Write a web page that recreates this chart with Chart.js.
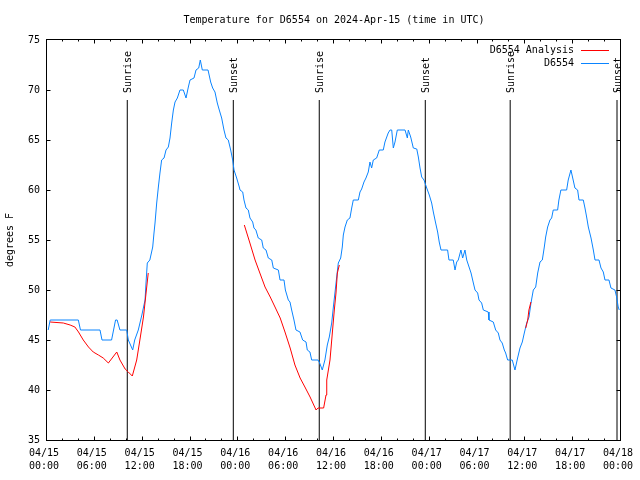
<!DOCTYPE html>
<html><head><meta charset="utf-8">
<script src="https://cdn.jsdelivr.net/npm/chart.js@4.4.1/dist/chart.umd.min.js"></script>
<style>html,body{margin:0;padding:0;background:#fff}#wrap{width:640px;height:480px}</style>
</head><body><div id="wrap"><canvas id="c" width="640" height="480"></canvas></div>
<script>
const titleText = 'Temperature for D6554 on 2024-Apr-15 (time in UTC)';
const yAxisTitle = 'degrees F';
const xTickDates = ['04/15','04/15','04/15','04/15','04/16','04/16','04/16','04/16','04/17','04/17','04/17','04/17','04/18'];
const xTickTimes = ['00:00','06:00','12:00','18:00','00:00','06:00','12:00','18:00','00:00','06:00','12:00','18:00','00:00'];
const seriesNames = ['D6554 Analysis', 'D6554'];

// hours since 04/15 00:00 UTC
const obsHours = [0.15,0.4,3.93,4.2,6.65,6.9,8.1,8.6,8.8,9.15,10.0,10.2,10.75,11.0,11.45,11.9,12.3,12.42,12.58,12.9,13.26,13.42,13.55,13.76,13.97,14.17,14.38,14.68,14.93,15.22,15.43,15.64,15.85,16.06,16.35,16.68,17.1,17.44,17.73,17.94,18.44,18.69,19.03,19.23,19.48,20.2,20.53,20.78,21.07,21.36,21.61,21.91,22.2,22.45,22.74,23.04,23.29,23.46,23.79,24.12,
 24.21,24.55,24.71,24.96,25.25,25.46,25.8,25.96,26.2,26.5,26.93,27.13,27.47,27.76,28.19,28.39,29.02,29.23,29.73,29.9,30.27,30.48,30.69,30.98,31.23,31.73,32.07,32.49,32.65,32.98,33.2,34.0,34.2,34.53,34.86,35.16,35.41,35.71,35.92,36.13,36.34,36.54,36.84,37.04,37.17,37.38,37.67,38.0,38.22,38.42,39.05,39.26,39.47,39.76,40.01,40.3,40.51,40.72,40.93,41.35,41.68,42.18,42.39,42.8,43.03,43.24,43.44,43.65,43.94,44.91,45.2,45.32,45.62,45.95,46.38,46.58,46.79,47.0,47.29,47.63,47.95,
 48.25,48.46,48.75,49.0,49.2,49.42,50.25,50.42,50.96,51.18,51.39,51.59,51.92,52.14,52.43,52.65,52.94,53.19,53.48,53.69,54.02,54.19,54.52,54.73,55.35,55.44,55.98,56.28,56.61,56.82,57.1,57.36,57.53,57.78,58.36,58.7,59.03,59.33,59.62,59.87,60.17,60.46,60.71,61.0,61.3,61.55,61.84,62.13,62.38,62.55,62.8,63.09,63.3,63.5,64.05,64.21,64.46,65.18,65.38,65.72,66.0,66.22,66.56,66.73,67.27,67.48,67.69,67.9,68.24,68.53,68.74,69.24,69.49,69.78,69.99,70.49,70.74,71.24,71.45,71.65,71.78];
const obsTemps = [46,47,47,46,46,45,45,47,47,46,46,45,44,45,46,47.5,49,50.7,52.7,53,54.3,55.7,56.7,58.7,60.3,61.7,63,63.2,64,64.3,65.2,66.7,68,68.8,69.2,70,70,69.2,70.3,71,71.2,72,72.2,73,72,72,70.8,70.2,69.8,68.7,68,67.2,66,65.2,65,64,63,62,61.2,60.3,
 60,59.8,59,58.2,58,57.2,56.8,56.2,56,55.2,55,54.2,54,53.2,53,52.2,52,51,51,50,49,48.8,48,47,46,45.8,45,44.8,44,43.8,43,43,42.7,42,43,44.5,45.3,46.7,48.3,49.8,51.3,52.7,53.2,54.3,55.5,56.3,57,57.2,58.2,59,59,59.8,60.1,60.8,61.2,61.8,62.8,62.2,63,63.2,64,64,64.8,65.7,66,66,64.2,64.8,66,66,65.2,66,65.3,64.2,64.1,63.3,62.2,61.3,61,60.2,59.5,
 58.7,57.8,56.7,55.8,54.8,54,54,53,53,52,52.8,53,54,53.2,54,53,52.3,51.7,50.7,50,49.7,49,48.7,48,47.8,47,46.8,46,45.7,45,44.7,44,43.7,43,43,42,43.2,44.2,44.8,45.7,46.7,47.3,48.7,50,50.3,51.7,52.8,53,54.3,55.3,56.3,57,57.2,58,58,59,60,60,61,62,61,60.2,60,59,59,58.2,57.3,56.3,55.2,54,53,53,52.2,51.8,51,51,50.2,50,49.3,48.3,48];

const anaHours = [0.4,2.05,2.9,3.5,3.95,4.55,5.2,5.8,6.45,7.05,7.7,8.75,9.15,9.8,10.2,10.7,11.25,11.65,12.1,12.7,12.71,
 24.75,25.45,26.1,26.7,27.35,28.0,28.6,29.25,29.85,30.5,31.1,31.75,32.35,33.0,33.75,34.0,34.7,35.0,35.09,35.5,35.79,36.04,36.25,36.42,36.67,36.68,
 60.05,60.3,60.45,60.7];
const anaTemps = [46.8,46.7,46.5,46.3,45.8,45,44.3,43.8,43.5,43.2,42.7,43.8,43,42.1,41.8,41.4,43,45,47.3,51.7,null,
 56.5,54.7,53,51.7,50.3,49.3,48.3,47.2,45.8,44.2,42.5,41.2,40.3,39.3,38,38.2,38.2,39.5,41,43,45.7,48,49.7,51.7,52.5,null,
 46.2,47,48,48.8];

const sunriseHours = [10.07, 34.15, 58.1];
const sunsetHours = [23.37, 47.45, 71.5];
const sunLineBottom = 35;
const sunLineTop = 69;

const FONT = "'DejaVu Sans Mono', 'Liberation Mono', monospace";
Chart.defaults.font.family = FONT;
Chart.defaults.font.size = 10;
Chart.defaults.color = '#000';

const toPts = (hs, vs) => hs.map((h, i) => ({x: h, y: vs[i]}));
const sunPts = [];
sunriseHours.concat(sunsetHours).forEach(h => {
  sunPts.push({x: h, y: sunLineBottom}, {x: h, y: sunLineTop}, {x: h, y: null});
});

const framePlugin = {
  id: 'frame',
  afterDatasetsDraw(chart) {
    const {ctx, chartArea, scales: {x, y}} = chart;
    const L = Math.round(chartArea.left) - 0.5, R = Math.round(chartArea.right) - 0.5;
    const T = Math.round(chartArea.top) - 0.5, B = Math.round(chartArea.bottom) + 0.5;
    ctx.save();
    ctx.strokeStyle = '#000';
    ctx.lineWidth = 1;
    ctx.strokeRect(L, T, R - L, B - T);
    ctx.beginPath();
    for (let h = x.min; h <= x.max; h += 2) {
      const px = Math.round(x.getPixelForValue(h)) - 0.5;
      const len = (h % 6 === 0) ? 4 : 2;
      ctx.moveTo(px, B); ctx.lineTo(px, B - len);
      ctx.moveTo(px, T); ctx.lineTo(px, T + len);
    }
    for (let v = y.min + 5; v < y.max; v += 5) {
      const py = Math.round(y.getPixelForValue(v)) + 0.5;
      ctx.moveTo(L, py); ctx.lineTo(L + 4, py);
      ctx.moveTo(R, py); ctx.lineTo(R - 4, py);
    }
    ctx.stroke();
    // sunrise / sunset labels
    ctx.fillStyle = '#000';
    ctx.font = '10px ' + FONT;
    ctx.textAlign = 'left';
    ctx.textBaseline = 'middle';
    const yTop = y.getPixelForValue(sunLineTop);
    const lab = (hrs, txt) => hrs.forEach(h => {
      const px = x.getPixelForValue(h);
      ctx.save();
      ctx.translate(px + 1, yTop - 7);
      ctx.rotate(-Math.PI / 2);
      ctx.fillText(txt, 0, 0);
      ctx.restore();
    });
    lab(sunriseHours, 'Sunrise');
    lab(sunsetHours, 'Sunset');
    // legend
    const colors = ['#ff0000', '#0a84ff'];
    seriesNames.forEach((n, i) => {
      const ly = Math.round(chartArea.top) + 10 + i * 13;
      ctx.textAlign = 'right';
      ctx.fillText(n, chartArea.right - 47, ly);
      ctx.strokeStyle = colors[i];
      ctx.beginPath();
      ctx.moveTo(chartArea.right - 40, ly + 0.5);
      ctx.lineTo(chartArea.right - 12, ly + 0.5);
      ctx.stroke();
    });
    ctx.restore();
  }
};

new Chart(document.getElementById('c'), {
  type: 'line',
  data: {
    datasets: [
      {label: seriesNames[0], data: toPts(anaHours, anaTemps), borderColor: '#ff0000', borderWidth: 1, pointRadius: 0, spanGaps: false, order: 0, tension: 0},
      {label: seriesNames[1], data: toPts(obsHours, obsTemps), borderColor: '#0a84ff', borderWidth: 1, pointRadius: 0, order: 1, tension: 0},
      {label: 'sun', data: sunPts, borderColor: '#000', borderWidth: 1, pointRadius: 0, spanGaps: false, order: 2}
    ]
  },
  options: {
    responsive: false,
    animation: false,
    devicePixelRatio: 1,
    layout: {padding: {left: 0, right: 19, top: 0, bottom: 0}},
    plugins: {
      legend: {display: false},
      tooltip: {enabled: false},
      title: {display: true, text: titleText, fullSize: false, color: '#000',
        font: {family: FONT, size: 10, weight: 'normal', lineHeight: 1.2},
        padding: {top: 14, bottom: 14}}
    },
    scales: {
      x: {
        type: 'linear', min: 0, max: 72,
        grid: {display: false, drawTicks: false},
        border: {display: false},
        ticks: {stepSize: 6, autoSkip: false, maxRotation: 0, padding: 7, labelOffset: -3,
          font: {family: FONT, size: 10, lineHeight: 1.3},
          callback: v => { const i = Math.round(v / 6); return (v % 6 === 0) ? [xTickDates[i], xTickTimes[i]] : ''; }},
        afterFit: s => { s.height = 40; s.paddingLeft = 0; s.paddingRight = 0; }
      },
      y: {
        min: 35, max: 75,
        grid: {display: false, drawTicks: false},
        border: {display: false},
        ticks: {stepSize: 5, padding: 7, font: {family: FONT, size: 10}},
        title: {display: true, text: yAxisTitle, color: '#000', padding: {top: 4, bottom: 0}, font: {family: FONT, size: 10}},
        afterFit: s => { s.width = 47; s.paddingTop = 0; s.paddingBottom = 0; }
      }
    }
  },
  plugins: [framePlugin]
});
</script></body></html>
